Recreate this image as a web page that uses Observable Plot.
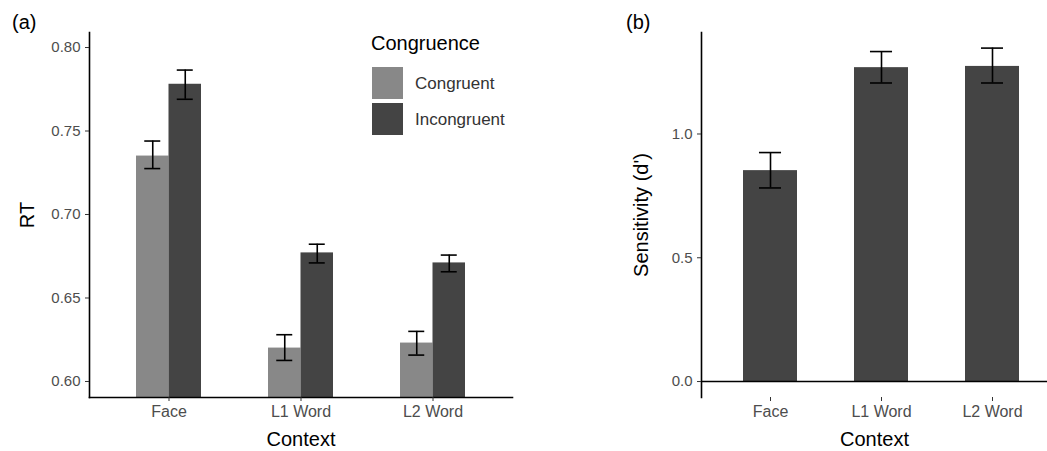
<!DOCTYPE html>
<html><head><meta charset="utf-8">
<script src="https://cdn.jsdelivr.net/npm/d3@7"></script>
<script src="https://cdn.jsdelivr.net/npm/@observablehq/plot@0.6"></script>
<style>
html,body{margin:0;padding:0;background:#fff;overflow:hidden}
#wrap{position:relative;width:1047px;height:451px;font-family:"Liberation Sans",Arial,sans-serif}
#wrap svg{position:absolute;top:0}
.lab{position:absolute;line-height:20px;color:#000;white-space:nowrap}
.key{position:absolute;width:31px;height:32px}
g[aria-label="x-axis label"], g[aria-label="y-axis label"]{font-size:20px;fill:#000}
g[aria-label="x-axis tick label"], g[aria-label="y-axis tick label"]{fill:#4d4d4d}
g[aria-label="x-axis tick"], g[aria-label="y-axis tick"]{stroke:#333}
</style>
</head><body>
<div id="wrap"></div>
<script>
// ---- data ----
const contexts = ["Face", "L1 Word", "L2 Word"];
const congruence = ["Congruent", "Incongruent"];
const rtCongruent = [0.735, 0.620, 0.623];
const rtCongruentLo = [0.7275, 0.6126, 0.6158];
const rtCongruentHi = [0.7440, 0.6280, 0.6300];
const rtIncongruent = [0.778, 0.677, 0.671];
const rtIncongruentLo = [0.7690, 0.6710, 0.6657];
const rtIncongruentHi = [0.7865, 0.6822, 0.6757];
const dprime = [0.852, 1.268, 1.273];
const dprimeLo = [0.782, 1.206, 1.206];
const dprimeHi = [0.925, 1.333, 1.347];
const rtTicks = [0.60, 0.65, 0.70, 0.75, 0.80];
const dTicks = [0.0, 0.5, 1.0];
const greys = ["#888888", "#444444"];

const font = '"Liberation Sans", Arial, sans-serif';
const wrap = document.getElementById("wrap");

const rowsC = contexts.map((c, i) => ({context: c, congruence: congruence[0], v: rtCongruent[i], lo: rtCongruentLo[i], hi: rtCongruentHi[i]}));
const rowsI = contexts.map((c, i) => ({context: c, congruence: congruence[1], v: rtIncongruent[i], lo: rtIncongruentLo[i], hi: rtIncongruentHi[i]}));
const rowsD = contexts.map((c, i) => ({context: c, v: dprime[i], lo: dprimeLo[i], hi: dprimeHi[i]}));

// ---- panel (a) ----
const A = {w: 560, h: 451, mL: 89, mR: 48, mT: 32, mB: 54, pi: 0.5076, po: 0.356};
const bwA = (A.w - A.mL - A.mR) / (contexts.length - A.pi + 2 * A.po) * (1 - A.pi);
const halfA = bwA / 2, qA = bwA / 4, capA = 8;

const plotA = Plot.plot({
  width: A.w, height: A.h,
  marginLeft: A.mL, marginRight: A.mR, marginTop: A.mT, marginBottom: A.mB,
  style: {fontFamily: font, fontSize: "15px", background: "transparent", overflow: "visible"},
  x: {type: "band", domain: contexts, paddingInner: A.pi, paddingOuter: A.po, label: "Context"},
  y: {domain: [0.5904, 0.809], label: "RT"},
  color: {domain: congruence, range: greys},
  marks: [
    Plot.barY(rowsC, {x: "context", y: "v", fill: "congruence", insetRight: halfA, clip: true}),
    Plot.barY(rowsI, {x: "context", y: "v", fill: "congruence", insetLeft: halfA, clip: true}),
    Plot.ruleX(rowsC, {x: "context", y1: "lo", y2: "hi", dx: -qA, stroke: "#000", strokeWidth: 1.6}),
    Plot.ruleX(rowsI, {x: "context", y1: "lo", y2: "hi", dx: qA, stroke: "#000", strokeWidth: 1.6}),
    Plot.tickY(rowsC, {x: "context", y: "hi", insetLeft: qA - capA, insetRight: halfA + qA - capA, stroke: "#000", strokeWidth: 1.6}),
    Plot.tickY(rowsC, {x: "context", y: "lo", insetLeft: qA - capA, insetRight: halfA + qA - capA, stroke: "#000", strokeWidth: 1.6}),
    Plot.tickY(rowsI, {x: "context", y: "hi", insetLeft: halfA + qA - capA, insetRight: qA - capA, stroke: "#000", strokeWidth: 1.6}),
    Plot.tickY(rowsI, {x: "context", y: "lo", insetLeft: halfA + qA - capA, insetRight: qA - capA, stroke: "#000", strokeWidth: 1.6}),
    Plot.frame({anchor: "left", stroke: "#000", strokeWidth: 1.6}),
    Plot.frame({anchor: "bottom", stroke: "#000", strokeWidth: 1.6}),
    Plot.axisY({ticks: rtTicks, tickFormat: d3.format(".2f"), tickSize: 4, tickPadding: 5, label: "RT", labelArrow: false, labelAnchor: "center", labelOffset: 70}),
    Plot.axisX({tickSize: 4, tickPadding: 4, fontSize: 16, label: "Context", labelArrow: false, labelAnchor: "center", labelOffset: 48})
  ]
});
plotA.style.left = "0px";
wrap.appendChild(plotA);

// ---- panel (b) ----
const B = {left: 600, w: 447, h: 451, mL: 101, mR: 0, mT: 32, mB: 54, pi: 0.518, po: 0.305, align: 0.6};
const stepB = (B.w - B.mL - B.mR) / (contexts.length - B.pi + 2 * B.po);
const bwB = stepB * (1 - B.pi);
const capB = 11;

const plotB = Plot.plot({
  width: B.w, height: B.h,
  marginLeft: B.mL, marginRight: B.mR, marginTop: B.mT, marginBottom: B.mB,
  style: {fontFamily: font, fontSize: "15px", background: "transparent", overflow: "visible"},
  x: {type: "band", domain: contexts, paddingInner: B.pi, paddingOuter: B.po, align: B.align, label: "Context"},
  y: {domain: [-0.0645, 1.41], label: "Sensitivity (d')"},
  marks: [
    Plot.barY(rowsD, {x: "context", y: "v", fill: greys[1], clip: true}),
    Plot.ruleX(rowsD, {x: "context", y1: "lo", y2: "hi", stroke: "#000", strokeWidth: 1.6}),
    Plot.tickY(rowsD, {x: "context", y: "hi", inset: bwB / 2 - capB, stroke: "#000", strokeWidth: 1.6}),
    Plot.tickY(rowsD, {x: "context", y: "lo", inset: bwB / 2 - capB, stroke: "#000", strokeWidth: 1.6}),
    Plot.ruleY([0], {stroke: "#000", strokeWidth: 1.6}),
    Plot.frame({anchor: "left", stroke: "#000", strokeWidth: 1.6}),
    Plot.axisY({ticks: dTicks, tickFormat: d3.format(".1f"), tickSize: 4, tickPadding: 5, label: "Sensitivity (d')", labelArrow: false, labelAnchor: "center", labelOffset: 68}),
    Plot.axisX({tickSize: 4, tickPadding: 4, fontSize: 16, label: "Context", labelArrow: false, labelAnchor: "center", labelOffset: 48})
  ]
});
plotB.style.left = B.left + "px";
wrap.appendChild(plotB);

// ---- panel tags and legend ----
function addLabel(text, left, top, size) {
  const d = document.createElement("div");
  d.className = "lab";
  d.textContent = text;
  d.style.left = left + "px";
  d.style.top = top + "px";
  d.style.fontSize = size + "px";
  wrap.appendChild(d);
  return d;
}
addLabel("(a)", 12, 12, 20);
addLabel("(b)", 626, 12, 20);
addLabel("Congruence", 371, 33, 20);
congruence.forEach((c, i) => {
  const k = document.createElement("div");
  k.className = "key";
  k.style.left = "372px";
  k.style.top = (67 + i * 36) + "px";
  k.style.background = greys[i];
  wrap.appendChild(k);
  const l = addLabel(c, 415, 74 + i * 36, 17);
  l.style.color = "#333";
});
</script>
</body></html>
